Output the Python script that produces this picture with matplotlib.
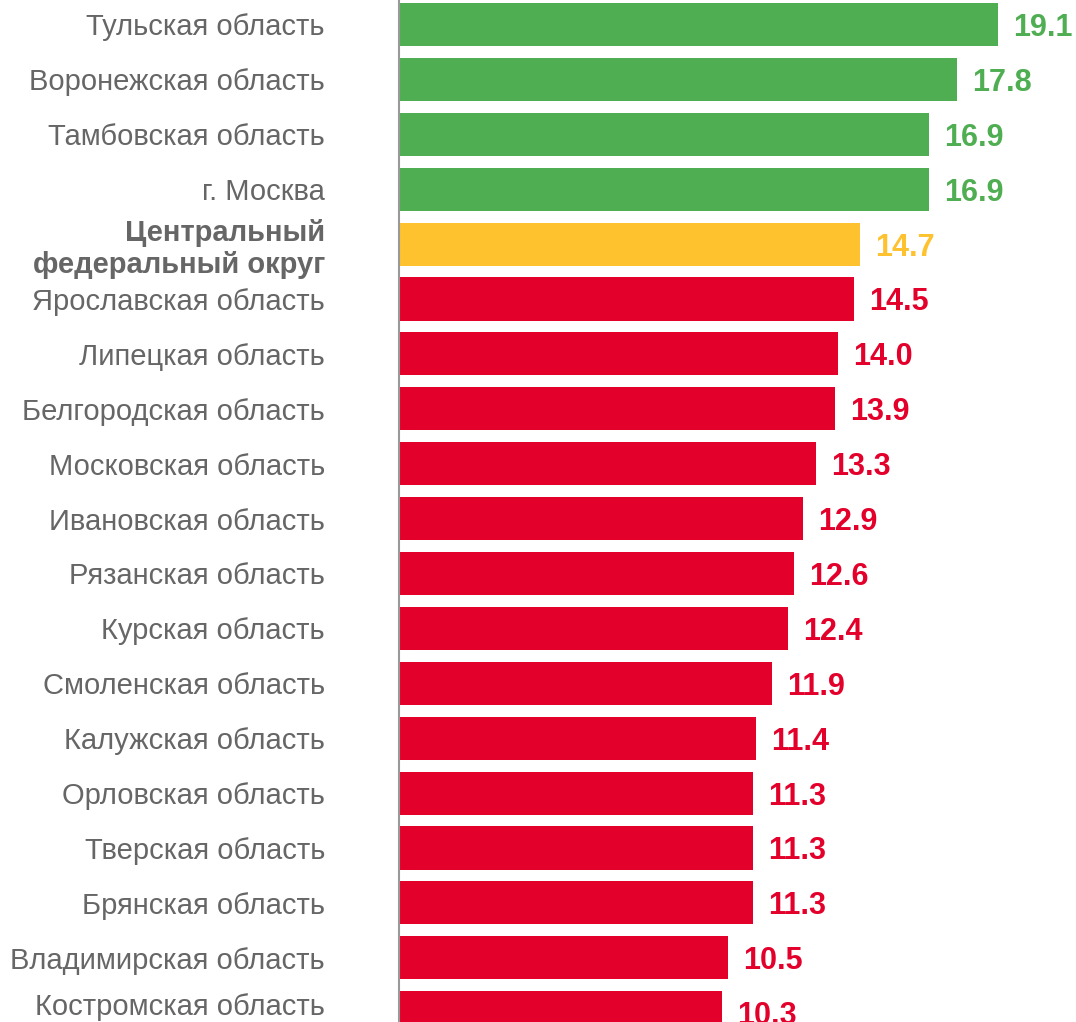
import matplotlib
matplotlib.use('Agg')
import matplotlib.pyplot as plt

plt.rcParams['font.family'] = ['Liberation Sans', 'DejaVu Sans']

regions = [
    'Тульская область', 'Воронежская область', 'Тамбовская область', 'г. Москва',
    'Центральный\nфедеральный округ', 'Ярославская область', 'Липецкая область',
    'Белгородская область', 'Московская область', 'Ивановская область',
    'Рязанская область', 'Курская область', 'Смоленская область',
    'Калужская область', 'Орловская область', 'Тверская область',
    'Брянская область', 'Владимирская область', 'Костромская область',
]
values = [19.1, 17.8, 16.9, 16.9, 14.7, 14.5, 14.0, 13.9, 13.3, 12.9,
          12.6, 12.4, 11.9, 11.4, 11.3, 11.3, 11.3, 10.5, 10.3]
groups = ['high'] * 4 + ['district'] + ['low'] * 14

colors = {'high': '#50AE52', 'district': '#FEC22F', 'low': '#E3002B'}
bar_colors = [colors[g] for g in groups]

fig = plt.figure(figsize=(10.76, 10.22), dpi=100)
ax = fig.add_axes([0.3708, 0, 0.6292, 1])

y = list(range(len(values)))
ax.barh(y, values, height=0.785, color=bar_colors)

for yi, v, c in zip(y, values, bar_colors):
    ax.text(v + 0.48, yi, f'{v:.1f}', va='center_baseline', ha='left',
            fontsize=22, fontweight='bold', color=c)

# category labels left of the axis; the last one is nudged up to stay inside
for yi, name, g in zip(y, regions, groups):
    dy = 6 if yi == y[-1] else 0
    ax.annotate(name, xy=(0, yi), xycoords=('axes fraction', 'data'),
                xytext=(-53.3, dy), textcoords='offset points',
                ha='right', va='center_baseline', fontsize=21, color='#666666',
                fontweight='bold' if g == 'district' else 'normal',
                linespacing=1.2, annotation_clip=False)

ax.set_xlim(0, 21.59)
ax.set_ylim(18.17, -0.446)
ax.set_yticks([])
ax.set_xticks([])

for side in ['top', 'right', 'bottom']:
    ax.spines[side].set_visible(False)
ax.spines['left'].set_color('#999999')
ax.spines['left'].set_linewidth(1.5)

fig.savefig('out.png', dpi=100)
